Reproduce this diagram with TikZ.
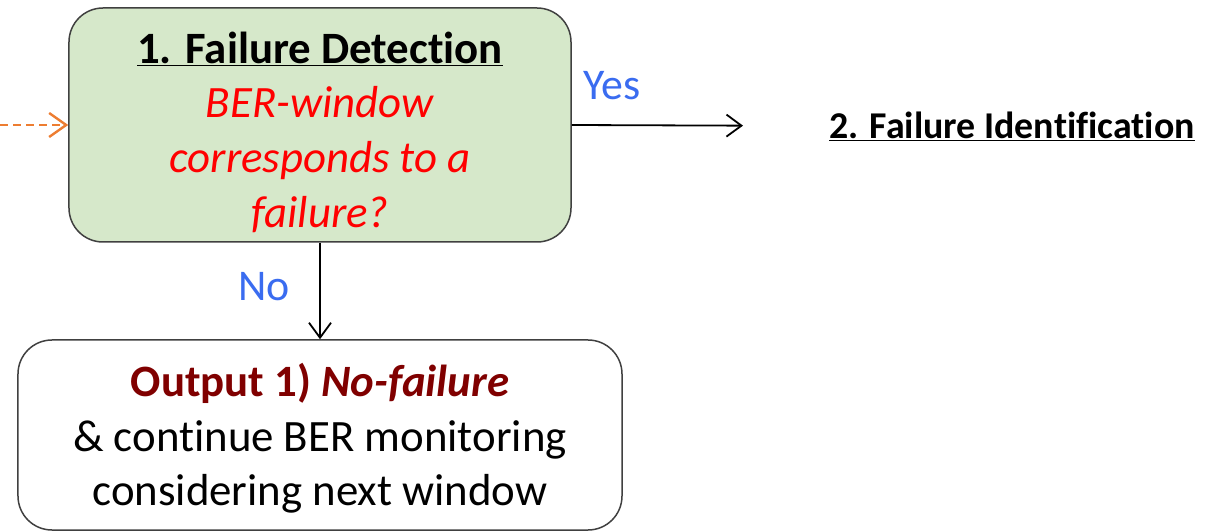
\documentclass[tikz,border=0pt]{standalone}
\usepackage{fontspec}
\setmainfont[Ligatures=NoCommon]{Carlito}
\usetikzlibrary{arrows.meta}
\definecolor{detfill}{RGB}{214,232,202}
\definecolor{boxedge}{RGB}{64,64,64}
\definecolor{askred}{RGB}{255,0,0}
\definecolor{answerblue}{RGB}{58,108,240}
\definecolor{outred}{RGB}{128,0,0}
\definecolor{feedorange}{RGB}{237,125,49}
\tikzset{
  roundbox/.style={draw=boxedge, line width=1.5bp, rounded corners=34bp,
    align=center, inner sep=0pt},
  flowarrow/.style={line width=1.8bp, -{Straight Barb[length=15bp,width=22bp]}},
  feedarrow/.style={line width=2.8bp, draw=feedorange,
    dash pattern=on 8bp off 5bp,
    -{Straight Barb[length=17bp,width=24bp,line width=2.4bp]}},
  answer/.style={text=answerblue, font=\fontsize{44}{50}\selectfont, inner sep=0pt},
}
\begin{document}
\begin{tikzpicture}[x=1bp,y=-1bp]
\useasboundingbox (0,0) rectangle (1206,532);

% decision step
\node[roundbox, fill=detfill, minimum width=502bp, minimum height=234bp,
      font=\fontsize{45}{55}\selectfont] (det) at (320,125)
  {\rule{0pt}{46bp}\underline{\textbf{1. Failure Detection}}\\
   \textcolor{askred}{\textit{BER-window}}\\
   \textcolor{askred}{\textit{corresponds to a}}\\
   \textcolor{askred}{\textit{failure?}}};

% outcome when nothing is wrong
\node[roundbox, fill=white, minimum width=604bp, minimum height=190bp,
      font=\fontsize{45}{55}\selectfont] (out) at (320,435)
  {\rule{0pt}{40bp}\textcolor{outred}{\textbf{Output 1) \textit{No-failure}}}\\
   \& continue BER monitoring\\
   considering next window};

% next step
\node[anchor=west, inner sep=0pt, font=\fontsize{38}{46}\selectfont] (ident) at (829,126)
  {\underline{\textbf{2. Failure Identification}}};

% incoming feed
\coordinate (feed) at (0,125);
\draw[feedarrow] (feed) -- (det.west);

% branches
\draw[flowarrow] (det.east) -- (ident.west) [shorten >=86bp];
\draw[flowarrow] (det.south) -- (out.north);

\node[answer] (yes) at (612,86) {Yes};
\node[answer] (no) at (264,287) {No};
\end{tikzpicture}
\end{document}
